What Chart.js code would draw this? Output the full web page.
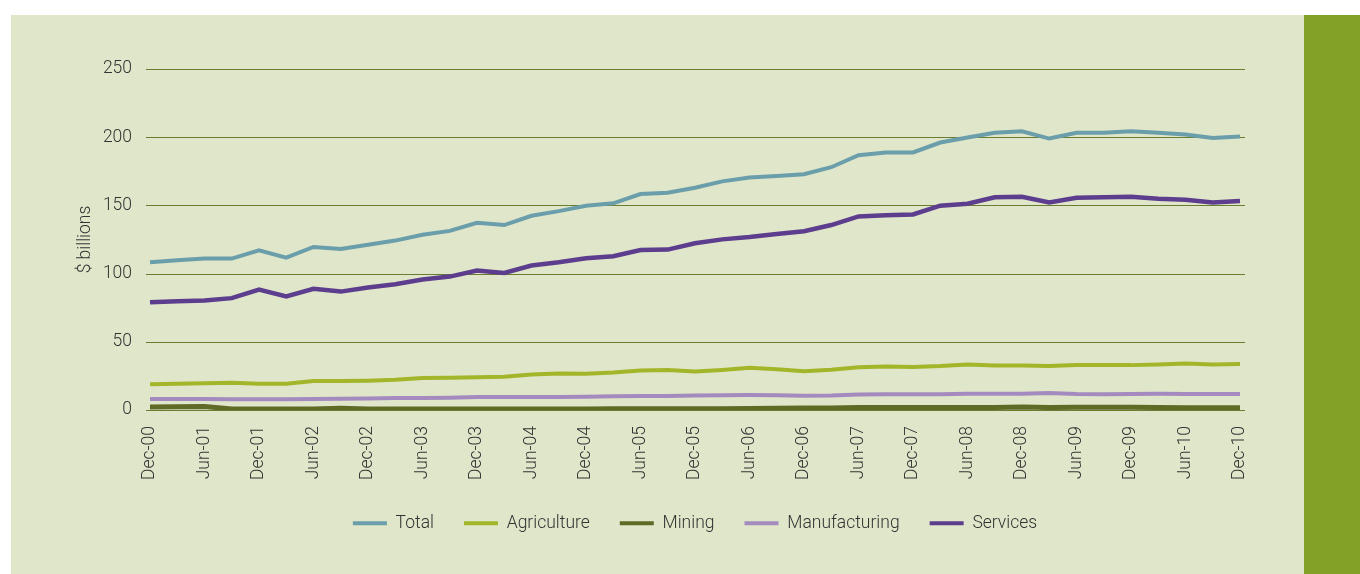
<!DOCTYPE html>
<html>
<head>
<meta charset="utf-8">
<script src="https://cdn.jsdelivr.net/npm/chart.js@4/dist/chart.umd.min.js"></script>
<style>
  html, body { margin: 0; padding: 0; background: #ffffff; }
  body { width: 1360px; height: 574px; position: relative; overflow: hidden; }
  #panel { position: absolute; left: 11px; top: 15px; width: 1293px; height: 559px; background: #e0e6c9; }
  #strip { position: absolute; left: 1304px; top: 15px; width: 56px; height: 559px; background: #83a027; }
  #chart1 { position: absolute; left: 0; top: 0; }
</style>
</head>
<body>
<div id="panel"><canvas id="chart1" width="1293" height="559"></canvas></div>
<div id="strip"></div>

<script>
// quarterly, Dec-00 .. Dec-10
var quarters = [
  'Dec-00','Mar-01','Jun-01','Sep-01','Dec-01','Mar-02','Jun-02','Sep-02','Dec-02','Mar-03',
  'Jun-03','Sep-03','Dec-03','Mar-04','Jun-04','Sep-04','Dec-04','Mar-05','Jun-05','Sep-05',
  'Dec-05','Mar-06','Jun-06','Sep-06','Dec-06','Mar-07','Jun-07','Sep-07','Dec-07','Mar-08',
  'Jun-08','Sep-08','Dec-08','Mar-09','Jun-09','Sep-09','Dec-09','Mar-10','Jun-10','Sep-10',
  'Dec-10'
];

var total = [
  108.3, 109.7, 111.0, 111.0, 117.0, 111.7, 119.5, 118.0, 121.2, 124.2,
  128.5, 131.3, 137.3, 135.6, 142.4, 145.8, 149.7, 151.5, 158.3, 159.3,
  163.0, 167.6, 170.5, 171.5, 172.9, 178.0, 186.8, 188.7, 188.8, 196.1,
  199.8, 203.2, 204.4, 199.0, 203.2, 203.2, 204.4, 203.2, 202.0, 199.5,
  200.5
];

var agriculture = [
  18.8, 19.3, 19.7, 20.0, 19.3, 19.3, 21.2, 21.2, 21.5, 22.2,
  23.4, 23.7, 24.0, 24.3, 26.0, 26.7, 26.5, 27.5, 29.0, 29.3,
  28.2, 29.4, 31.0, 29.8, 28.4, 29.5, 31.3, 31.9, 31.5, 32.2,
  33.4, 32.7, 32.7, 32.2, 32.9, 32.9, 32.9, 33.4, 34.1, 33.4,
  33.7
];

var mining = [
  2.2, 2.4, 2.5, 0.8, 0.7, 0.7, 0.8, 1.2, 0.8, 0.7,
  0.7, 0.7, 0.7, 0.8, 0.8, 0.8, 0.8, 0.9, 1.0, 1.0,
  1.0, 1.0, 1.1, 1.3, 1.4, 1.5, 1.8, 1.8, 1.8, 1.8,
  1.8, 1.9, 2.2, 1.8, 2.0, 2.0, 2.0, 1.9, 1.7, 1.7,
  1.7
];

var manufacturing = [
  8.0, 8.0, 8.0, 7.8, 7.8, 7.8, 8.0, 8.3, 8.5, 8.8,
  8.8, 9.0, 9.5, 9.5, 9.5, 9.6, 9.8, 10.0, 10.2, 10.3,
  10.6, 10.9, 11.0, 10.8, 10.5, 10.6, 11.3, 11.5, 11.5, 11.6,
  11.9, 12.0, 12.0, 12.5, 11.8, 11.6, 11.7, 11.9, 11.8, 11.8,
  11.8
];

var services = [
  79.0, 79.8, 80.3, 82.0, 88.3, 83.2, 88.8, 86.8, 89.8, 92.2,
  95.6, 97.8, 102.2, 100.5, 105.9, 108.3, 111.2, 112.7, 117.3, 117.6,
  122.2, 125.1, 126.8, 129.0, 131.0, 135.6, 141.9, 142.8, 143.4, 149.8,
  151.2, 155.9, 156.3, 152.2, 155.6, 155.9, 156.3, 154.9, 154.1, 152.2,
  153.2
];

var yTicks = [0, 50, 100, 150, 200, 250];

var fontFam = 'Roboto, "DejaVu Sans Condensed", sans-serif';
var textCol = '#333333';
var gridCol = '#6b7b2f';

function serie(label, values, colour, width) {
  return {
    label: label,
    data: values,
    borderColor: colour,
    backgroundColor: colour,
    borderWidth: width,
    pointRadius: 0,
    tension: 0
  };
}

// horizontal rules run a little past the first and last point
const gridLines = {
  id: 'gridLines',
  beforeDatasetsDraw: function(chart) {
    var y = chart.scales.y, a = chart.chartArea, c = chart.ctx;
    c.save();
    c.strokeStyle = gridCol;
    c.lineWidth = 1.2;
    y.ticks.forEach(function(t) {
      var py = Math.round(y.getPixelForValue(t.value)) + 0.5;
      c.beginPath();
      c.moveTo(a.left - 4, py);
      c.lineTo(a.right + 5, py);
      c.stroke();
    });
    c.restore();
  }
};

const ctx1 = document.getElementById('chart1').getContext('2d');
const chart1 = new Chart(ctx1, {
  type: 'line',
  data: {
    labels: quarters,
    datasets: [
      serie('Total', total, '#6a9eab', 4),
      serie('Agriculture', agriculture, '#a3b62a', 4),
      serie('Mining', mining, '#5e6a26', 5),
      serie('Manufacturing', manufacturing, '#a48bbf', 4),
      serie('Services', services, '#5d3e8e', 4.5)
    ]
  },
  options: {
    responsive: false,
    animation: false,
    layout: {
      padding: { left: 64, right: 64, top: 54, bottom: 32 }
    },
    scales: {
      x: {
        grid: { display: false, drawTicks: false },
        border: { display: false },
        ticks: {
          autoSkip: false,
          minRotation: 90,
          maxRotation: 90,
          padding: 16,
          color: textCol,
          font: { family: fontFam, size: 17.5, weight: '300' },
          callback: function(val, idx) {
            return idx % 2 === 0 ? this.getLabelForValue(val) : '';
          }
        },
        afterFit: function(scale) { scale.height = 74.5; }
      },
      y: {
        min: yTicks[0],
        max: yTicks[yTicks.length - 1],
        afterBuildTicks: function(scale) {
          scale.ticks = yTicks.map(function(v) { return { value: v }; });
        },
        grid: { display: false, drawTicks: false },
        border: { display: false },
        ticks: {
          padding: 18,
          color: textCol,
          font: { family: fontFam, size: 17.5, weight: '300' }
        },
        title: {
          display: true,
          text: '$ billions',
          color: textCol,
          padding: 0,
          font: { family: fontFam, size: 17.5, weight: '300' }
        },
        afterFit: function(scale) { scale.width = 75; }
      }
    },
    plugins: {
      tooltip: { enabled: false },
      legend: {
        position: 'bottom',
        fullSize: false,
        labels: {
          boxWidth: 34,
          boxHeight: 4,
          padding: 30,
          color: textCol,
          font: { family: fontFam, size: 17.5, weight: '300' },
          generateLabels: function(chart) {
            var items = Chart.defaults.plugins.legend.labels.generateLabels(chart);
            items.forEach(function(it) { it.lineWidth = 0; });
            return items;
          }
        }
      }
    }
  },
  plugins: [gridLines]
});
</script>
</body>
</html>
